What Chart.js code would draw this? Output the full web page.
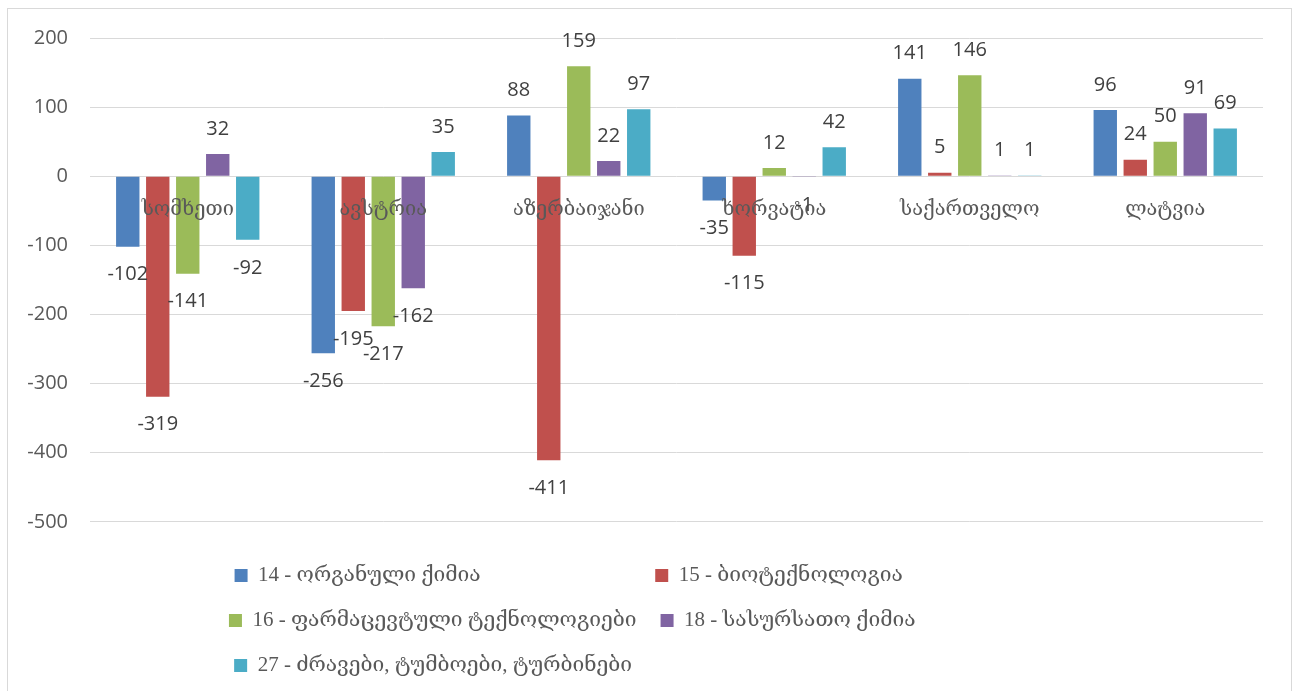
<!DOCTYPE html>
<html>
<head>
<meta charset="utf-8">
<script src="https://cdn.jsdelivr.net/npm/chart.js@4/dist/chart.umd.min.js"></script>
<style>
  html, body { margin: 0; background: #fff; }
  #wrap { width: 1293px; height: 691px; position: relative; }
</style>
</head>
<body>
<div id="wrap"><canvas id="myChart"></canvas></div>
<script>
// categories along the x-axis
var Countries = ["სომხეთი", "ავსტრია", "აზერბაიჯანი", "ხორვატია", "საქართველო", "ლატვია"];
// one array per series
var Organic = [-102, -256, 88, -35, 141, 96];
var Biotech = [-319, -195, -411, -115, 5, 24];
var Pharma = [-141, -217, 159, 12, 146, 50];
var FoodChem = [32, -162, 22, -1, 1, 91];
var Engines = [-92, 35, 97, 42, 1, 69];
var Names = ["14 - ორგანული ქიმია", "15 - ბიოტექნოლოგია", "16 - ფარმაცევტული ტექნოლოგიები",
             "18 - სასურსათო ქიმია", "27 - ძრავები, ტუმბოები, ტურბინები"];
var Colors = ["#4F81BD", "#C0504D", "#9BBB59", "#8064A2", "#4BACC6"];
var YMin = -500, YMax = 200, YStep = 100;

var FONT = "'Open Sans', 'DejaVu Sans', sans-serif";
var GEO = "'Liberation Serif', 'DejaVu Serif', serif";
var W = 1293;
var PAD = {left: 25, right: 30, top: 38, bottom: 5};
var LP = 24, BOX = 13, LFS = 21;   // legend padding, box size, font size
var COL1 = 235, COL2 = 655;        // where the legend columns start

// the legend wraps by width, so pad the texts to get two neat columns
var mctx = document.createElement('canvas').getContext('2d');
mctx.font = LFS + 'px ' + GEO;
function padTo(text, w) {
  var t = text;
  while (mctx.measureText(t + ' ').width < w) t += ' ';
  while (mctx.measureText(t).width < w) t += '\u200A';
  return t;
}
var rowW = PAD.left + LP + (W - PAD.right) - 2 * COL1;
var iw1 = COL2 - COL1 - LP;
var iw2 = rowW - iw1 - 2 * LP;
var iw5 = rowW - LP;
var itemW = [iw1, iw2, iw1, iw2, iw5];

var Series = [Organic, Biotech, Pharma, FoodChem, Engines];
var datasets = Series.map(function (d, i) {
  return { label: Names[i], data: d, backgroundColor: Colors[i], borderWidth: 0 };
});

// value labels at the end of each bar
var valueLabels = {
  id: 'valueLabels',
  afterDraw: function (chart) {
    var ctx = chart.ctx;
    ctx.save();
    ctx.font = '20px ' + FONT;
    ctx.fillStyle = '#404040';
    ctx.textAlign = 'center';
    ctx.textBaseline = 'middle';
    chart.data.datasets.forEach(function (ds, i) {
      chart.getDatasetMeta(i).data.forEach(function (bar, j) {
        var v = ds.data[j];
        var y = v >= 0 ? bar.y - 25 : bar.y + 28;
        ctx.fillText(String(v), bar.x, y);
      });
    });
    ctx.restore();
  }
};

// light frame round the whole chart
var frame = {
  id: 'frame',
  beforeDraw: function (chart) {
    var ctx = chart.ctx;
    ctx.save();
    ctx.fillStyle = '#fff';
    ctx.fillRect(0, 0, chart.width, chart.height);
    ctx.strokeStyle = '#d9d9d9';
    ctx.lineWidth = 1;
    ctx.strokeRect(7.5, 8.5, 1284, 700);
    ctx.restore();
  }
};

var ctx = document.getElementById("myChart");
var myChart = new Chart(ctx, {
  type: 'bar',
  data: { labels: Countries, datasets: datasets },
  plugins: [frame, valueLabels],
  options: {
    responsive: true,
    maintainAspectRatio: false,
    animation: false,
    layout: { padding: PAD },
    datasets: { bar: { categoryPercentage: 0.767, barPercentage: 0.78 } },
    scales: {
      x: {
        position: { y: 0 },
        grid: { display: false },
        border: { display: false },
        ticks: { z: 1, color: '#595959', font: { family: GEO, size: 20 }, padding: 14, maxRotation: 0, autoSkip: false }
      },
      y: {
        min: YMin, max: YMax,
        afterFit: function (s) { s.width = 65; },
        grid: { color: '#d9d9d9', lineWidth: 1, drawTicks: false },
        border: { display: false },
        ticks: { stepSize: YStep, color: '#595959', font: { family: FONT, size: 20 }, padding: 22 }
      }
    },
    plugins: {
      tooltip: { enabled: false },
      legend: {
        position: 'bottom',
        align: 'center',
        title: { display: true, text: ' ', font: { size: 1 }, padding: { top: 18, bottom: 0 } },
        labels: {
          boxWidth: BOX, boxHeight: BOX, padding: LP, color: '#595959',
          font: { family: GEO, size: LFS },
          generateLabels: function (chart) {
            return chart.data.datasets.map(function (ds, i) {
              return {
                text: padTo(ds.label, itemW[i] - BOX - LFS / 2),
                fillStyle: ds.backgroundColor, strokeStyle: ds.backgroundColor,
                lineWidth: 0, hidden: false, datasetIndex: i, fontColor: '#595959'
              };
            });
          }
        }
      }
    }
  }
});
</script>
</body>
</html>
